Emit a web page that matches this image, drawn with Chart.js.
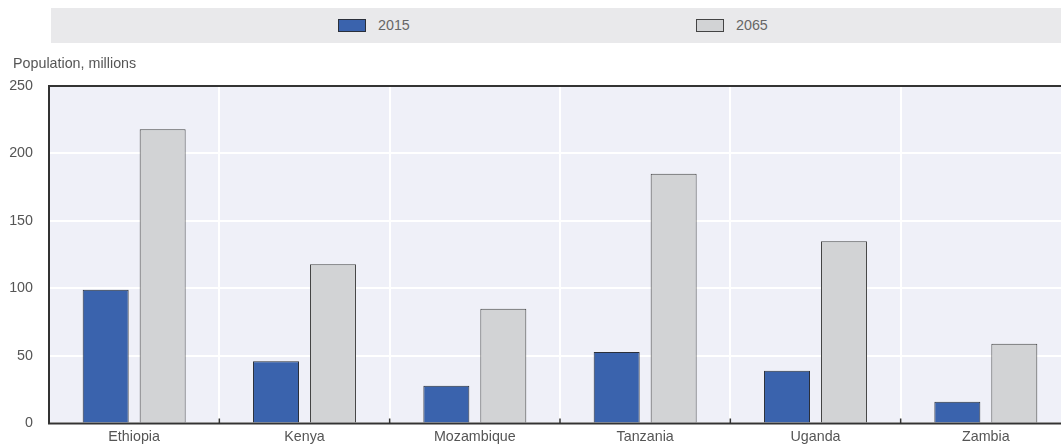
<!DOCTYPE html>
<html>
<head>
<meta charset="utf-8">
<script src="https://cdn.jsdelivr.net/npm/chart.js@4.4.1/dist/chart.umd.min.js"></script>
<style>
  html, body { margin: 0; padding: 0; background: #ffffff; overflow: hidden; width: 1061px; height: 448px; }
  #wrap { position: absolute; left: 0; top: 0; width: 1071px; height: 448px; }
  #legend { position: absolute; left: 51px; top: 8px; width: 1010px; height: 35px; background: #e9e9eb; }
  .lg-item { position: absolute; top: 0; height: 35px; display: flex; align-items: center; }
  .lg-box { width: 26px; height: 11px; border: 1px solid #333; }
  .lg-text { margin-left: 12px; color: #666; font: 14.3px 'Liberation Sans', Arial, sans-serif; line-height: 17px; }
  #ytitle { position: absolute; left: 13px; top: 55px; color: #555; font: 14.3px 'Liberation Sans', Arial, sans-serif; line-height: 17px; white-space: nowrap; }
</style>
</head>
<body>
<div id="wrap"><canvas id="c" width="1071" height="448"></canvas></div>
<div id="legend"></div>
<div id="ytitle"></div>
<script>
const categories = ['Ethiopia', 'Kenya', 'Mozambique', 'Tanzania', 'Uganda', 'Zambia'];
const seriesNames = ['2015', '2065'];
const pop2015 = [99, 46, 28, 53, 39, 16];
const pop2065 = [218, 118, 85, 185, 135, 59];
const yTickValues = [0, 50, 100, 150, 200, 250];
const yAxisTitle = 'Population, millions';

const FONT = "'Liberation Sans', Arial, sans-serif";
const FSIZE = 14.3;
const colors = ['#3a63ad', '#d2d3d5'];
const borders = ['#2a2f3a', '#444444'];

document.getElementById('ytitle').textContent = yAxisTitle;

// HTML legend built from the series
const legendEl = document.getElementById('legend');
const legendX = [287, 645];
seriesNames.forEach((name, i) => {
  const item = document.createElement('div');
  item.className = 'lg-item';
  item.style.left = legendX[i] + 'px';
  const box = document.createElement('div');
  box.className = 'lg-box';
  box.style.background = colors[i];
  box.style.borderColor = borders[i];
  const txt = document.createElement('span');
  txt.className = 'lg-text';
  txt.textContent = name;
  item.appendChild(box); item.appendChild(txt);
  legendEl.appendChild(item);
});

const framePlugin = {
  id: 'frame',
  beforeDraw(chart) {
    const { ctx, chartArea: a } = chart;
    ctx.save();
    ctx.fillStyle = '#eff0f8';
    ctx.fillRect(a.left, a.top, a.right - a.left, a.bottom - a.top);
    ctx.restore();
  },
  afterDatasetsDraw(chart) {
    const { ctx, chartArea: a } = chart;
    const x = chart.scales.x;
    ctx.save();
    ctx.strokeStyle = '#333';
    ctx.lineWidth = 2;
    ctx.beginPath();
    ctx.moveTo(a.left, a.top); ctx.lineTo(a.right, a.top);
    ctx.moveTo(a.left, a.top - 1); ctx.lineTo(a.left, a.bottom + 1);
    ctx.moveTo(a.left, a.bottom); ctx.lineTo(a.right, a.bottom);
    ctx.stroke();
    ctx.lineWidth = 1.5;
    ctx.beginPath();
    for (let i = 1; i < categories.length; i++) {
      const px = (x.getPixelForValue(i) + x.getPixelForValue(i - 1)) / 2;
      ctx.moveTo(px, a.bottom); ctx.lineTo(px, a.bottom - 5);
    }
    ctx.stroke();
    ctx.restore();
  }
};

new Chart(document.getElementById('c'), {
  type: 'bar',
  data: {
    labels: categories,
    datasets: [
      { label: seriesNames[0], data: pop2015, backgroundColor: colors[0], borderColor: borders[0], borderWidth: 1 },
      { label: seriesNames[1], data: pop2065, backgroundColor: colors[1], borderColor: borders[1], borderWidth: 1 }
    ]
  },
  options: {
    responsive: false,
    animation: false,
    devicePixelRatio: 1,
    datasets: { bar: { categoryPercentage: 0.669, barPercentage: 0.807 } },
    layout: { padding: { top: 86, left: 0, right: 0, bottom: 0 } },
    plugins: {
      legend: { display: false },
      tooltip: { enabled: false },
      title: { display: false }
    },
    scales: {
      x: {
        grid: { color: '#ffffff', lineWidth: 2, drawTicks: false, offset: true },
        border: { display: false },
        ticks: { color: '#555', font: { family: FONT, size: FSIZE }, padding: 5, maxRotation: 0, autoSkip: false },
        afterFit(s) { s.height = 24; }
      },
      y: {
        min: 0, max: 250,
        grid: { color: '#ffffff', lineWidth: 2, drawTicks: false },
        border: { display: false },
        afterBuildTicks(s) { s.ticks = yTickValues.map(v => ({ value: v })); },
        ticks: { color: '#555', font: { family: FONT, size: FSIZE }, padding: 16 },
        afterFit(s) { s.width = 49; }
      }
    }
  },
  plugins: [framePlugin]
});
</script>
</body>
</html>
